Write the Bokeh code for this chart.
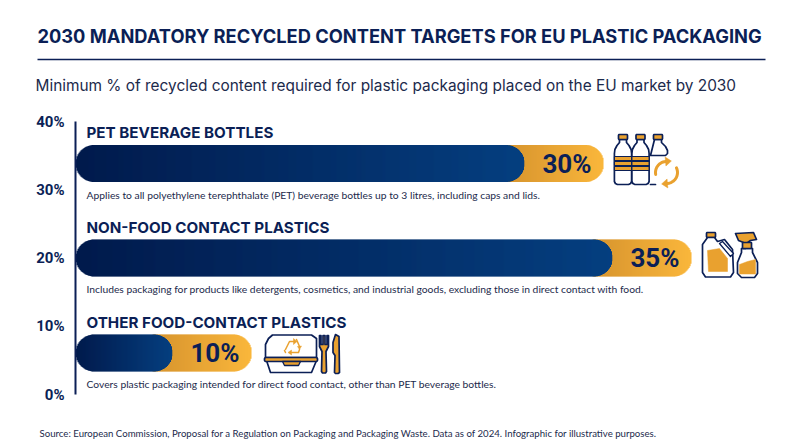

import numpy as np
from bokeh.plotting import figure
from bokeh.layouts import column
from bokeh.models import FixedTicker, PrintfTickFormatter
from bokeh.core.properties import value
from bokeh.embed import file_html
from bokeh.resources import INLINE

# ---------- data ----------
categories = ["PET BEVERAGE BOTTLES", "NON-FOOD CONTACT PLASTICS", "OTHER FOOD-CONTACT PLASTICS"]
targets = [30, 35, 10]
descriptions = [
    "Applies to all polyethylene terephthalate (PET) beverage bottles up to 3 litres, including caps and lids.",
    "Includes packaging for products like detergents, cosmetics, and industrial goods, excluding those in direct contact with food.",
    "Covers plastic packaging intended for direct food contact, other than PET beverage bottles.",
]
y_ticks = [0, 10, 20, 30, 40]
title_text = "2030 MANDATORY RECYCLED CONTENT TARGETS FOR EU PLASTIC PACKAGING"
subtitle_text = "Minimum % of recycled content required for plastic packaging placed on the EU market by 2030"
source_text = "Source: European Commission, Proposal for a Regulation on Packaging and Packaging Waste. Data as of 2024. Infographic for illustrative purposes."

# ---------- layout (page pixels) ----------
W = 800
HEAD_H, BODY_H, FOOT_H = 100, 314, 33
PX0, PY0, PY40 = 75, 394, 121
SX = 17.6
SY = (PY0 - PY40) / 40
def X(px): return (px - PX0) / SX
def Y(py): return (PY0 - py) / SY

NAVY = "#0b1f56"
DESC = "#1c2a4c"
ORANGE = "#e9a12f"
bar_centers = [163, 257.5, 352.5]
BAR_H = 37

def strip(height, top):
    f = figure(width=W, height=height, output_backend="svg", toolbar_location=None,
               x_range=(0, W), y_range=(top + height, top), min_border=0, frame_align=False)
    f.axis.visible = False
    f.grid.visible = False
    f.outline_line_color = None
    return f

head = strip(HEAD_H, 0)
head.text(x=[37], y=[35], text=[title_text], text_font=value("Inter"), text_font_style="bold",
          text_font_size="18.27px", text_color=NAVY, text_baseline="middle")
head.segment(x0=[37], x1=[765], y0=[59], y1=[59], line_color=NAVY, line_width=1.6)
head.text(x=[35], y=[85], text=[subtitle_text], text_font=value("Inter"),
          text_font_size="15.4px", text_color=DESC, text_baseline="middle")

foot = strip(FOOT_H, PY0 + 20)
foot.text(x=[39], y=[432], text=[source_text], text_font=value("Lato"),
          text_font_size="9.65px", text_color=DESC, text_baseline="middle")

p = figure(width=W, height=BODY_H, output_backend="svg", toolbar_location=None,
           x_range=(0, (W - PX0) / SX), y_range=(0, 40), frame_align=False,
           min_border_left=PX0, min_border_right=0,
           min_border_top=PY40 - HEAD_H, min_border_bottom=HEAD_H + BODY_H - PY0)
p.xaxis.visible = False
p.grid.visible = False
p.outline_line_color = None

ax = p.yaxis[0]
ax.ticker = FixedTicker(ticks=y_ticks)
ax.formatter = PrintfTickFormatter(format="%d%%")
ax.major_tick_line_color = None
ax.minor_tick_line_color = None
ax.axis_line_color = NAVY
ax.axis_line_width = 2
ax.major_label_text_font = "Roboto"
ax.major_label_text_font_style = "bold"
ax.major_label_text_font_size = "15px"
ax.major_label_text_color = NAVY
ax.major_label_standoff = 5

def lerp(c0, c1, t):
    a = [int(c0[i:i+2], 16) for i in (1, 3, 5)]
    b = [int(c1[i:i+2], 16) for i in (1, 3, 5)]
    return "#%02x%02x%02x" % tuple(int(round(a[k] + (b[k] - a[k]) * t)) for k in range(3))

def pill(x0, x1, cy, c0, c1):
    r = BAR_H / 2
    px0, px1 = PX0 + x0 * SX, PX0 + x1 * SX
    xs = np.arange(px0, px1, 1.0)
    lefts, rights, tops, bots, cols = [], [], [], [], []
    for a in xs:
        m = a + 0.5
        h = r
        if m < px0 + r:
            h = np.sqrt(max(r**2 - (px0 + r - m)**2, 0))
        elif m > px1 - r:
            h = np.sqrt(max(r**2 - (m - px1 + r)**2, 0))
        lefts.append(X(a)); rights.append(X(min(a + 1.5, px1)))
        tops.append(Y(cy - h)); bots.append(Y(cy + h))
        cols.append(lerp(c0, c1, (a - px0) / (px1 - px0)))
    p.quad(left=lefts, right=rights, top=tops, bottom=bots, fill_color=cols, line_color=None)

ORANGE_W = 4.5
for v, cy in zip(targets, bar_centers):
    blue_end = v - ORANGE_W
    pill(blue_end - 2.0, v, cy, "#cf8a24", "#fab433")
    pill(0, blue_end, cy, "#011a4c", "#053f80")

for cat, desc, v, cy in zip(categories, descriptions, targets, bar_centers):
    p.text(x=[X(86)], y=[Y(cy - 31)], text=[cat], text_font=value("Inter"), text_font_style="bold",
           text_font_size="15.2px", text_color=NAVY, text_baseline="middle", text_align="left")
    p.text(x=[X(86)], y=[Y(cy + 31)], text=[desc], text_font=value("Lato"),
           text_font_size="10.3px", text_color=DESC, text_baseline="middle", text_align="left")
    p.text(x=[v], y=[Y(cy)], text=["%d%%" % v], x_offset=[-12], text_font=value("Roboto"), text_font_style="bold",
           text_font_size="26px", text_color=NAVY, text_baseline="middle", text_align="right")

# ---------- icons (page-pixel drawing helpers) ----------
LW = 1.7
def poly(pts, fill="white", line=NAVY, lw=LW):
    xs = [X(a) for a, b in pts]; ys = [Y(b) for a, b in pts]
    p.patch(xs, ys, fill_color=fill, line_color=line, line_width=lw, line_join="round")
def path(pts, line=NAVY, lw=LW):
    xs = [X(a) for a, b in pts]; ys = [Y(b) for a, b in pts]
    p.line(xs, ys, line_color=line, line_width=lw, line_join="round", line_cap="round")
def rrect(x0, y0, x1, y1, r):
    pts = []
    for cx, cy, a0 in [(x1 - r, y0 + r, -90), (x1 - r, y1 - r, 0), (x0 + r, y1 - r, 90), (x0 + r, y0 + r, 180)]:
        for a in np.radians(np.arange(a0, a0 + 91, 15)):
            pts.append((cx + r * np.cos(a), cy + r * np.sin(a)))
    return pts
def box(x0, y0, x1, y1, r=1, fill="white", line=NAVY, lw=LW):
    poly(rrect(x0, y0, x1, y1, r), fill, line, lw)

def bottle(cx, top, bottom):
    hw = 8.6
    poly([(cx - 3.5, top + 5), (cx + 3.5, top + 5), (cx + 3.5, top + 8), (cx + 6, top + 11), (cx + hw - 0.5, top + 15),
          (cx + hw, top + 19), (cx + hw, bottom - 3), (cx + hw - 1, bottom - 1),
          (cx + hw - 3, bottom), (cx - hw + 3, bottom), (cx - hw + 1, bottom - 1), (cx - hw, bottom - 3),
          (cx - hw, top + 19), (cx - hw + 0.5, top + 15), (cx - 6, top + 11), (cx - 3.5, top + 8)])
    box(cx - 4.5, top, cx + 4.5, top + 5, 1, fill=ORANGE)
    for y0 in (156, 161, 166):
        box(cx - hw, y0, cx + hw, y0 + 4, 0.5, fill=ORANGE, lw=1.1)

poly([(654, 139), (661, 139), (661, 142), (665, 146), (667, 150), (667, 153), (665, 155), (650, 155)])
path([(650, 184), (655, 184)])
box(653, 134, 662, 139, 1, fill=ORANGE)
bottle(622.5, 134, 184)
bottle(640, 134, 184)

def arc(cx, cy, r, a0, a1, color=ORANGE, lw=3):
    t = np.radians(np.linspace(a0, a1, 16))
    path(list(zip(cx + r * np.cos(t), cy + r * np.sin(t))), line=color, lw=lw)
def head_tri(cx, cy, r, a, size):
    t = np.radians(a)
    ux, uy = np.cos(t), np.sin(t)
    tx, ty = -uy, ux
    bx, by = cx + r * ux, cy + r * uy
    poly([(bx + ux * size, by + uy * size), (bx - ux * size, by - uy * size),
          (bx + tx * size * 1.3, by + ty * size * 1.3)], fill=ORANGE, line=ORANGE, lw=0.5)
arc(666, 172, 11, 170, 265); head_tri(666, 172, 11, 265, 4.5)
arc(666, 172, 11, -25, 85); head_tri(666, 172, 11, 85, 4.5)

# jug
box(706, 232, 715, 237, 1, fill=ORANGE)
poly([(707, 237), (714, 237), (717, 241), (724, 239), (732, 249), (733, 272), (730, 276.5), (705, 276.5),
      (702, 272), (702, 244)])
poly([(707, 250), (719, 248), (727, 258), (727, 271), (708, 271)], fill=ORANGE, line=ORANGE, lw=0.5)
poly([(719, 243), (722, 241), (733, 253), (730, 256)], fill="white", lw=1.3)
# spray
poly([(741, 248), (752, 248), (752, 252), (757, 262), (757, 273), (754, 277), (741, 277), (737, 273), (737, 262), (741, 252)])
poly([(739, 273.5), (739, 264), (747, 261), (755, 259), (755, 273.5)], fill=ORANGE, line=ORANGE, lw=0.5)
poly([(735, 233), (753, 232), (756, 239), (750, 240), (746, 243), (745, 248), (743, 248), (743, 242), (738, 240)], fill=ORANGE)
box(742, 242, 751, 248, 0.5, fill=ORANGE)

# food box
poly([(272, 334.5), (311, 334.5), (316, 338), (316, 357), (265, 357), (265, 344), (268, 338)])
poly([(266, 360), (316, 360), (311, 372), (270, 372)])
box(264, 357, 317, 361, 1.5, fill=ORANGE)
poly([(282, 361), (300, 361), (298, 365), (284, 365)], fill=ORANGE, lw=1.3)
for pts in ([(285, 349), (289, 341), (293, 341)], [(296, 339), (299, 346)], [(291, 352), (298, 352), (299, 349)], [(285, 352), (284, 350)]):
    path(pts, line=ORANGE, lw=1.5)
poly([(293, 338), (293, 344), (296.5, 341)], fill=ORANGE, line=ORANGE, lw=0.5)
poly([(291, 349.5), (291, 354.5), (287.5, 352)], fill=ORANGE, line=ORANGE, lw=0.5)
poly([(297, 346), (301, 345.5), (299, 349)], fill=ORANGE, line=ORANGE, lw=0.5)
# fork
poly([(319, 335), (320.5, 335), (320.5, 344), (322.5, 344), (322.5, 335), (324.5, 335), (324.5, 344), (326.5, 344), (326.5, 335), (328, 335),
      (328, 346), (325.5, 351), (326, 371), (325, 372.5), (322, 372.5), (321, 371), (321.5, 351), (319, 346)], fill=ORANGE)
# knife
poly([(335, 334), (338.5, 336), (339, 372), (337.5, 373), (335, 373), (334, 372), (334.5, 355), (332.5, 352), (332.5, 342)], fill=ORANGE)

page = column(head, p, foot, spacing=0)
open("out.html", "w").write(file_html(page, INLINE))
